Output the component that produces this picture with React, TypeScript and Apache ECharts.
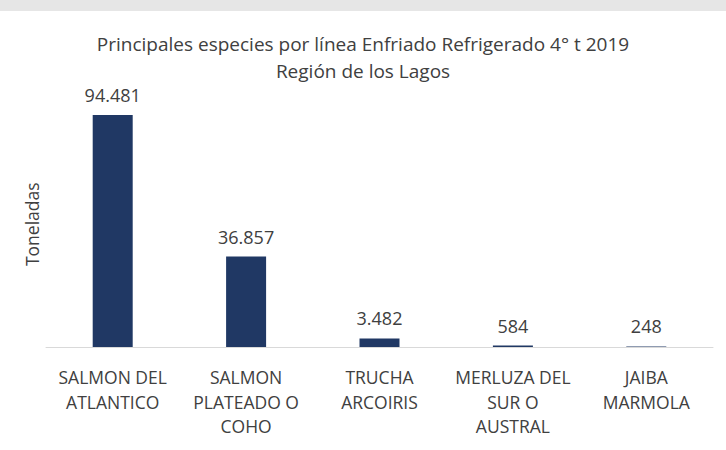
import React, { useEffect, useRef } from "react";
import * as echarts from "echarts";

const categories = [
  "SALMON DEL\nATLANTICO",
  "SALMON\nPLATEADO O\nCOHO",
  "TRUCHA\nARCOIRIS",
  "MERLUZA DEL\nSUR O\nAUSTRAL",
  "JAIBA\nMARMOLA",
];
const values = [94481, 36857, 3482, 584, 248];
const titleText = "Principales especies por línea Enfriado Refrigerado 4° t 2019\nRegión de los Lagos";
const yName = "Toneladas";

const fmt = (v: number) => String(v).replace(/\B(?=(\d{3})+(?!\d))/g, ".");

export default function App() {
  const ref = useRef<HTMLDivElement>(null);
  useEffect(() => {
    if (!ref.current) return;
    const chart = echarts.init(ref.current, null, { renderer: "svg" });
    const font = "'Open Sans', 'Noto Sans', sans-serif";
    chart.setOption({
      animation: false,
      backgroundColor: "#ffffff",
      textStyle: { fontFamily: font },
      graphic: [
        { type: "rect", left: 0, top: 0, shape: { width: 726, height: 11 }, style: { fill: "#e6e6e6" } },
      ],
      title: {
        text: titleText,
        left: "center",
        top: 25,
        textStyle: { fontFamily: font, fontSize: 19, fontWeight: "normal", color: "#404040", lineHeight: 27 },
      },
      grid: { left: 46, right: 13, top: 101.5, bottom: 103 },
      xAxis: {
        type: "category",
        data: categories,
        axisLine: { show: true, lineStyle: { color: "#d9d9d9", width: 1 } },
        axisTick: { show: false },
        axisLabel: { color: "#404040", fontSize: 17.5, lineHeight: 24.5, margin: 18, interval: 0, fontFamily: font },
      },
      yAxis: {
        type: "value",
        min: 0,
        max: 100000,
        name: yName,
        nameLocation: "middle",
        nameGap: 5,
        nameRotate: 90,
        nameTextStyle: { color: "#404040", fontSize: 17.5, fontFamily: font },
        axisLine: { show: false },
        axisTick: { show: false },
        axisLabel: { show: false },
        splitLine: { show: false },
      },
      series: [
        {
          type: "bar",
          data: values,
          barWidth: 40,
          itemStyle: { color: "#203864" },
          label: {
            show: true,
            position: "top",
            distance: 11,
            color: "#404040",
            fontSize: 18,
            fontFamily: font,
            formatter: (p: any) => fmt(p.value),
          },
        },
      ],
    });
    return () => chart.dispose();
  }, []);
  return <div ref={ref} style={{ position: "fixed", left: 0, top: 0, width: 726, height: 450 }} />;
}
